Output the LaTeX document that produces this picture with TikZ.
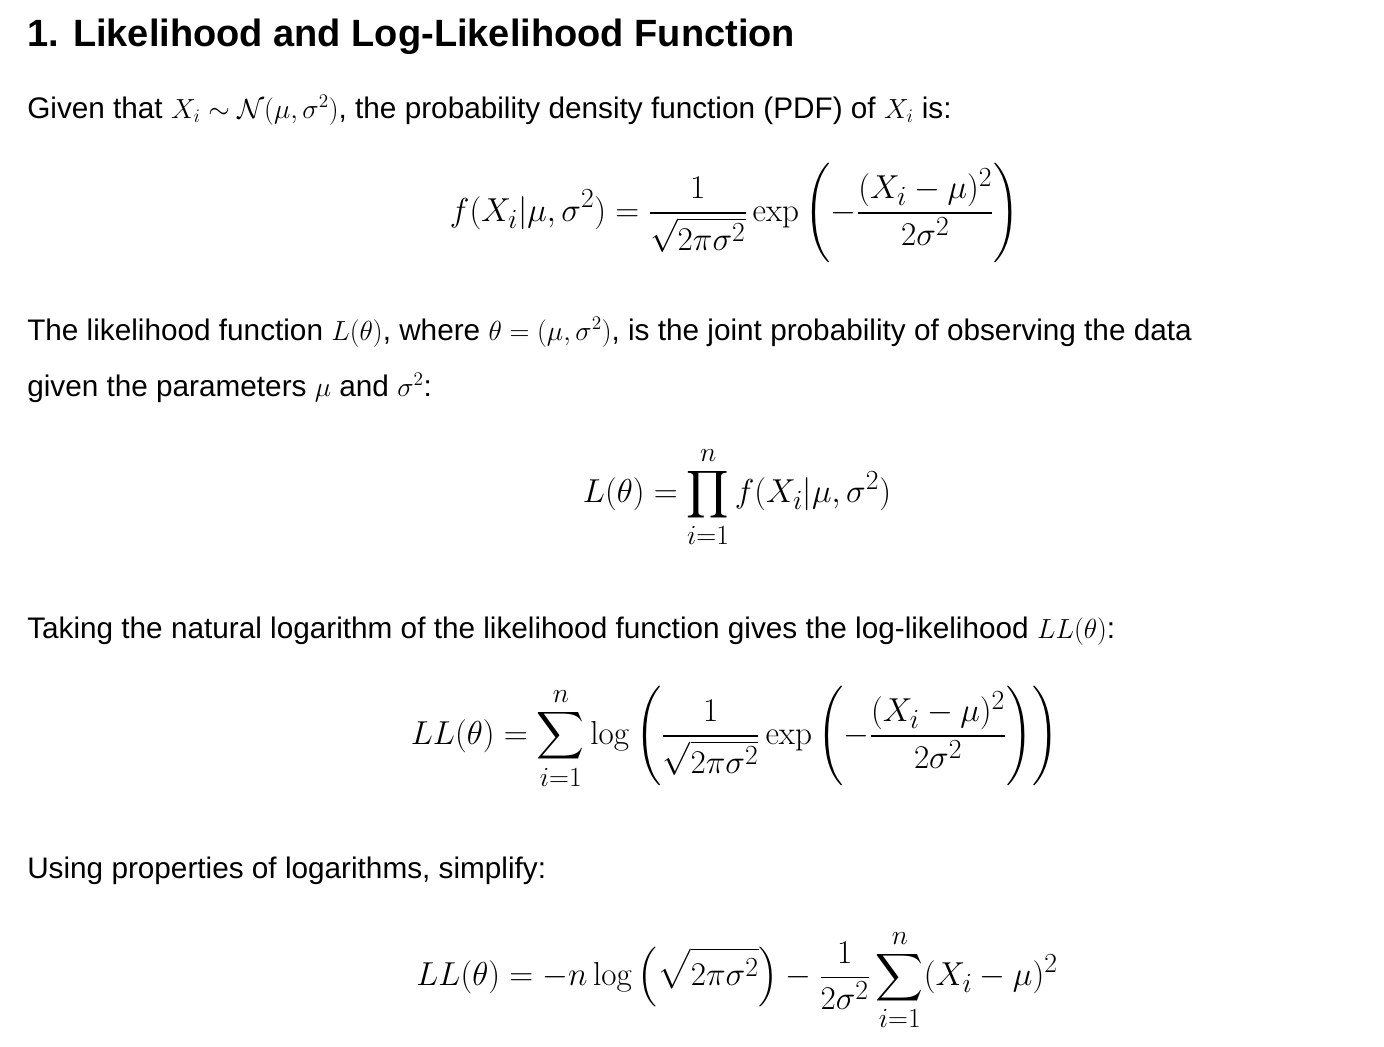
\documentclass[tikz,border=0pt]{standalone}
\usepackage{amsmath}
\usepackage[no-math]{fontspec}
\setmainfont{Liberation Sans}
\begin{document}
\begin{tikzpicture}[x=0.75pt,y=-0.75pt,
  txt/.style={anchor=base west,inner sep=0pt,font=\fontsize{22.3}{26}\selectfont},
  eq/.style={anchor=center,inner sep=0pt,font=\fontsize{27.5}{32}\selectfont}]
\path[use as bounding box] (0,0) rectangle (1384,1046);
\node[txt,font=\fontsize{28.5}{34}\selectfont\bfseries] (h) at (27,46) {1. Likelihood and Log-Likelihood Function};
\node[txt] (p1) at (27,118) {Given that $X_i\sim\mathcal{N}(\mu,\sigma^2)$, the probability density function (PDF) of $X_i$ is:};
\node[eq] (e1) at (735,213) {$\displaystyle f(X_i|\mu,\sigma^2)=\frac{1}{\sqrt{2\pi\sigma^2}}\exp\left(-\frac{(X_i-\mu)^2}{2\sigma^2}\right)$};
\node[txt] (p2) at (27,340) {The likelihood function $L(\theta)$, where $\theta=(\mu,\sigma^2)$, is the joint probability of observing the data};
\node[txt] (p2b) at (27,396) {given the parameters $\mu$ and $\sigma^2$:};
\node[eq] (e2) at (737,497) {$\displaystyle L(\theta)=\prod_{i=1}^{n} f(X_i|\mu,\sigma^2)$};
\node[txt] (p3) at (27,638) {Taking the natural logarithm of the likelihood function gives the log-likelihood $LL(\theta)$:};
\node[eq] (e3) at (735,738) {$\displaystyle LL(\theta)=\sum_{i=1}^{n}\log\left(\frac{1}{\sqrt{2\pi\sigma^2}}\exp\left(-\frac{(X_i-\mu)^2}{2\sigma^2}\right)\right)$};
\node[txt] (p4) at (27,878) {Using properties of logarithms, simplify:};
\node[eq] (e4) at (737,980) {$\displaystyle LL(\theta)=-n\log\left(\sqrt{2\pi\sigma^2}\right)-\frac{1}{2\sigma^2}\sum_{i=1}^{n}(X_i-\mu)^2$};
\end{tikzpicture}
\end{document}
